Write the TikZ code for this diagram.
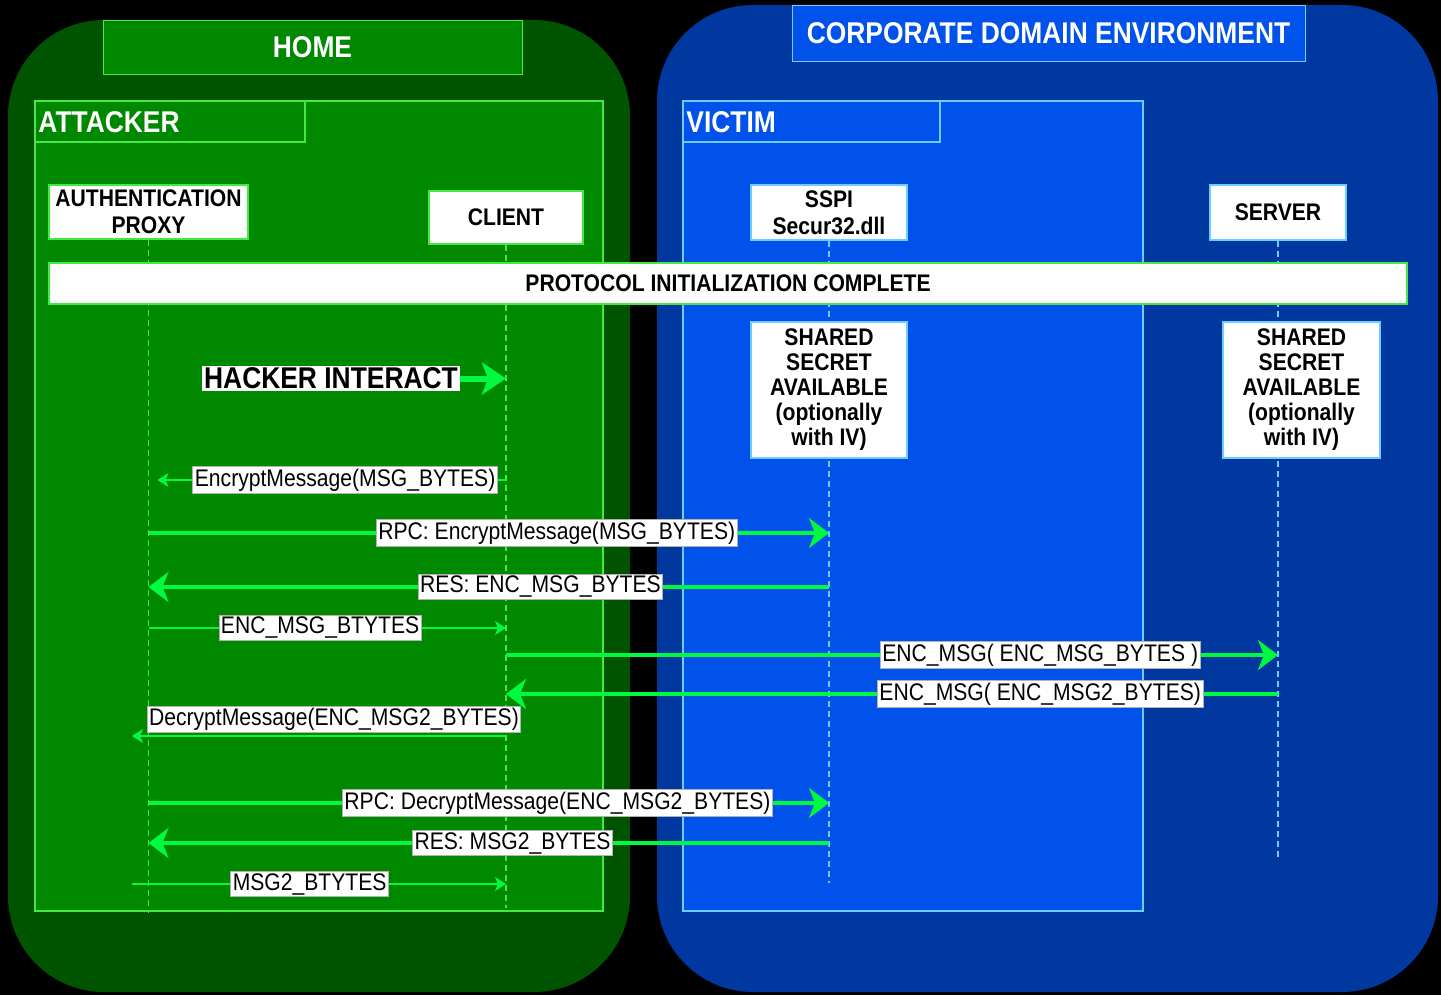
\documentclass[tikz,border=0pt]{standalone}
\usepackage{fontspec}
\setmainfont{Liberation Sans}[FakeStretch=0.88]
\usetikzlibrary{arrows.meta, positioning}
\definecolor{homeDark}{RGB}{0,84,0}
\definecolor{homeGreen}{RGB}{0,136,0}
\definecolor{lineGreen}{RGB}{70,232,70}
\definecolor{corpDark}{RGB}{0,56,160}
\definecolor{corpBlue}{RGB}{0,82,235}
\definecolor{lineCyan}{RGB}{110,205,255}
\definecolor{msgGreen}{RGB}{0,250,64}

\begin{document}
\begin{tikzpicture}[x=0.5pt, y=-0.5pt,
    zoneframe/.style={line width=0.8pt},
    title/.style={font=\bfseries\fontsize{15}{18}\selectfont, text=white, inner sep=0pt},
    actor/.style={fill=white, line width=0.8pt, inner sep=0pt, align=center,
        font=\bfseries\fontsize{12}{13.5}\selectfont},
    secret/.style={actor, draw=lineCyan, minimum width=78pt, minimum height=68pt,
        font=\bfseries\fontsize{12}{12.5}\selectfont},
    lifeline/.style={dash pattern=on 3pt off 2pt, line width=0.6pt},
    msgbig/.style={draw=msgGreen, line width=2pt, -{Stealth[length=10pt,width=15pt,inset=3pt]}},
    msgthin/.style={draw=msgGreen, line width=0.7pt, -{Stealth[length=5.5pt,width=7pt,inset=1.5pt]}},
    lbl/.style={fill=white, draw=gray!60, line width=0.4pt, inner sep=1pt, text=black,
        font=\fontsize{12}{14}\selectfont}]
    % page
    \fill[black] (0,0) rectangle (1441,995);
    \useasboundingbox (0,0) rectangle (1441,995);
    % zones
    \fill[homeDark, rounded corners=48pt] (8,20) rectangle (630,992);
    \fill[corpDark, rounded corners=48pt] (657,5) rectangle (1438,992);
    \node[title, draw=lineGreen, fill=homeGreen, minimum width=209.5pt, minimum height=27pt] (home) at (312.5,47) {HOME};
    \node[title, draw=lineCyan, fill=corpBlue, minimum width=256.5pt, minimum height=28pt] (corp) at (1048.5,33) {CORPORATE DOMAIN ENVIRONMENT};
    % attacker and victim
    \draw[zoneframe, draw=lineGreen, fill=homeGreen] (35,101) rectangle (603,911);
    \draw[zoneframe, draw=lineGreen] (35,101) rectangle (305,142);
    \node[title, anchor=west] (attacker) at (38,122) {ATTACKER};
    \draw[zoneframe, draw=lineCyan, fill=corpBlue] (683,101) rectangle (1143,911);
    \draw[zoneframe, draw=lineCyan] (683,101) rectangle (940,142);
    \node[title, anchor=west] (victim) at (686,122) {VICTIM};
    % participants
    \node[actor, draw=lineGreen, minimum width=99.5pt, minimum height=27pt] (proxy) at (148.5,212) {AUTHENTICATION\\PROXY};
    \node[actor, draw=lineGreen, minimum width=77pt, minimum height=26.5pt] (client) at (506,217.5) {CLIENT};
    \node[actor, draw=lineCyan, minimum width=78pt, minimum height=27.5pt] (sspi) at (829,212.5) {SSPI\\Secur32.dll};
    \node[actor, draw=lineCyan, minimum width=68pt, minimum height=27.5pt] (server) at (1278,212.5) {SERVER};
    % lifelines
    \coordinate (proxyEnd) at (148.5,913);
    \coordinate (clientEnd) at (506,908);
    \coordinate (sspiEnd) at (829,883);
    \coordinate (serverEnd) at (1278,857);
    \draw[lifeline, lineGreen] (proxy.south) -- (proxyEnd);
    \draw[lifeline, lineGreen] (client.south) -- (clientEnd);
    \draw[lifeline, lineCyan] (sspi.south) -- (sspiEnd);
    \draw[lifeline, lineCyan] (server.south) -- (serverEnd);
    % protocol state
    \node[actor, draw=lineGreen, minimum width=679pt, minimum height=20.5pt] (init) at (728,283.5) {PROTOCOL INITIALIZATION COMPLETE};
    \node[secret] (secretA) at (829,390) {SHARED\\SECRET\\AVAILABLE\\(optionally\\with IV)};
    \node[secret, minimum width=78.5pt] (secretB) at (1301.5,390) {SHARED\\SECRET\\AVAILABLE\\(optionally\\with IV)};
    % messages
    \node[fill=white, inner sep=1pt, font=\bfseries\fontsize{15}{18}\selectfont] (hacker) at (331,378.5) {HACKER INTERACT};
    \draw[draw=msgGreen, line width=3pt, -{Stealth[length=12pt,width=16pt,inset=3pt]}] (hacker.east) -- (client |- hacker.east);
    \draw[msgthin, shorten >=4.5pt] (client |- 0,480) -- node[lbl, pos=0.45] {EncryptMessage(MSG\_BYTES)} (proxy |- 0,480);
    \draw[msgbig] (proxy |- 0,533) -- node[lbl, pos=0.6] {RPC: EncryptMessage(MSG\_BYTES)} (sspi |- 0,533);
    \draw[msgbig] (sspi |- 0,587) -- node[lbl, pos=0.424] {RES: ENC\_MSG\_BYTES} (proxy |- 0,587);
    \draw[msgthin] (proxy |- 0,628) -- node[lbl, pos=0.48] {ENC\_MSG\_BTYTES} (client |- 0,628);
    \draw[msgbig] (client |- 0,655) -- node[lbl, pos=0.692] {ENC\_MSG( ENC\_MSG\_BYTES )} (server |- 0,655);
    \draw[msgbig] (server |- 0,694) -- node[lbl, pos=0.308] {ENC\_MSG( ENC\_MSG2\_BYTES)} (client |- 0,694);
    \coordinate (decEnd) at (132,736);
    \draw[msgthin] (client |- decEnd) -- node[lbl, pos=0.46, above=1.5pt] {DecryptMessage(ENC\_MSG2\_BYTES)} (decEnd);
    \draw[msgbig] (proxy |- 0,803) -- node[lbl, pos=0.601] {RPC: DecryptMessage(ENC\_MSG2\_BYTES)} (sspi |- 0,803);
    \draw[msgbig] (sspi |- 0,843) -- node[lbl, pos=0.465] {RES: MSG2\_BYTES} (proxy |- 0,843);
    \coordinate (msgStart) at (132,884);
    \draw[msgthin] (msgStart) -- node[lbl, pos=0.475] {MSG2\_BTYTES} (client |- msgStart);
\end{tikzpicture}
\end{document}
